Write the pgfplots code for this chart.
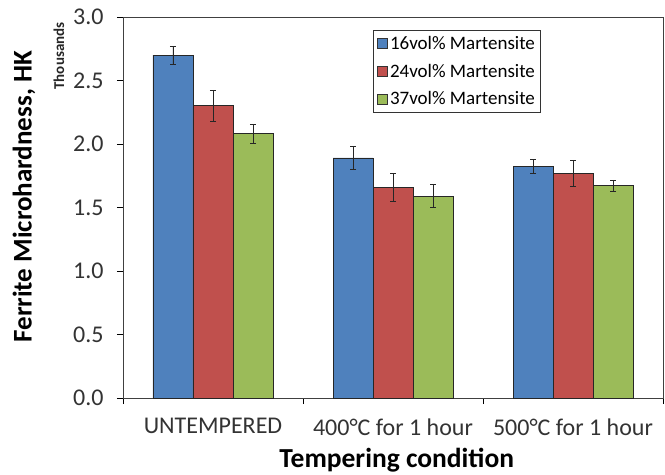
\documentclass[border=0pt]{standalone}
\usepackage{pgfplots}
\pgfplotsset{compat=1.18}
\usepackage{fontspec}
\setmainfont{Carlito}
\definecolor{cblue}{HTML}{4F81BD}
\definecolor{cred}{HTML}{C0504D}
\definecolor{cgreen}{HTML}{9BBB59}
\begin{document}
\begin{tikzpicture}
\begin{axis}[
  scale only axis, width=540bp, height=381bp,
  clip mode=individual,
  ybar=0pt, bar width=40bp,
  xmin=-0.5, xmax=2.5, ymin=0, ymax=3,
  xtick={0,1,2},
  xticklabels={UNTEMPERED, 400\textdegree C for 1 hour, 500\textdegree C for 1 hour},
  minor xtick={-0.5,0.5,1.5,2.5},
  ytick={0,0.5,...,3},
  yticklabel style={/pgf/number format/fixed, /pgf/number format/fixed zerofill, /pgf/number format/precision=1, xshift=-10bp},
  /pgf/number format/assume math mode=true,
  tick align=outside, tick pos=left,
  major x tick style={draw=none},
  minor tick length=6bp, major tick length=6bp,
  tick style={black, line width=0.8pt},
  axis line style={black!75, line width=1pt},
  ticklabel style={font=\fontsize{24bp}{28bp}\selectfont, text=black!80},
  xticklabel style={yshift=-11bp},
  xlabel={\bfseries Tempering condition},
  ylabel={\bfseries Ferrite Microhardness, HK},
  xlabel style={font=\fontsize{27.5bp}{30bp}\selectfont, at={(axis description cs:0.507,0)}, anchor=center, yshift=-62bp},
  ylabel style={font=\fontsize{27bp}{30bp}\selectfont, at={(axis description cs:0,0.528)}, anchor=center, yshift=99bp},
  legend style={at={(axis description cs:0.463,0.966)}, anchor=north west,
    draw=black!80, line width=0.8pt, font=\fontsize{19bp}{22bp}\selectfont,
    row sep=9bp, inner xsep=4bp, inner ysep=4bp},
  legend image code/.code={\draw[#1, draw=black!80, line width=0.6pt] (0bp,-5bp) rectangle (10bp,5bp);},
  legend cell align=left,
  error bars/y dir=both, error bars/y explicit,
  error bars/error bar style={black!85, line width=0.8pt},
  error bars/error mark options={rotate=90, mark size=3bp, black!85, line width=0.8pt},
]
\addplot[fill=cblue, draw=black!85, line width=0.9pt] coordinates {
  (0,2.70) +- (0,0.07)
  (1,1.89) +- (0,0.09)
  (2,1.82) +- (0,0.055)
};
\addplot[fill=cred, draw=black!85, line width=0.9pt] coordinates {
  (0,2.30) +- (0,0.12)
  (1,1.655) +- (0,0.11)
  (2,1.77) +- (0,0.10)
};
\addplot[fill=cgreen, draw=black!85, line width=0.9pt] coordinates {
  (0,2.08) +- (0,0.075)
  (1,1.59) +- (0,0.09)
  (2,1.67) +- (0,0.045)
};
\legend{16vol\% Martensite, 24vol\% Martensite, 37vol\% Martensite}
\coordinate (sw) at (rel axis cs:0,0);
\coordinate (ne) at (rel axis cs:1,1);
\end{axis}
\node[rotate=90, font={\fontsize{15bp}{16bp}\selectfont\bfseries}, text=black!85, inner sep=0pt] at ([shift={(-64bp,342bp)}]sw) {Thousands};
\pgfresetboundingbox
\path ([shift={(-123bp,-77bp)}]sw) rectangle ([shift={(2bp,17bp)}]ne);
\end{tikzpicture}
\end{document}
